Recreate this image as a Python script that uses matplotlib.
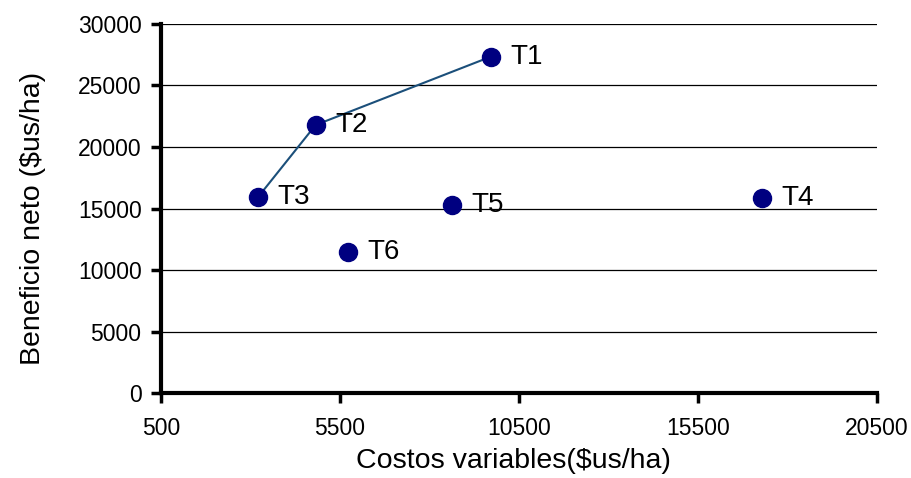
import matplotlib.pyplot as plt

plt.rcParams['font.family'] = ['Liberation Sans', 'DejaVu Sans']

# tratamientos: costos variables vs beneficio neto
nombres = ['T1', 'T2', 'T3', 'T4', 'T5', 'T6']
costos = [9710, 4820, 3220, 17280, 8620, 5720]
beneficio = [27340, 21790, 15960, 15880, 15290, 11490]

# curva de dominancia (T3 -> T2 -> T1)
curva = ['T3', 'T2', 'T1']
curva_x = [costos[nombres.index(t)] for t in curva]
curva_y = [beneficio[nombres.index(t)] for t in curva]

fig = plt.figure(figsize=(9.11, 4.78), dpi=100)
ax = fig.add_axes([0.1767, 0.1778, 0.786, 0.772])

for yv in range(5000, 30001, 5000):
    ax.axhline(yv, color='black', lw=0.9, zorder=1)

ax.plot(curva_x, curva_y, color='#1b4f7a', lw=1.5, zorder=2)
ax.plot(costos, beneficio, 'o', color='#000080', markersize=13, zorder=3)

for n, x, y in zip(nombres, costos, beneficio):
    ax.annotate(n, (x, y), xytext=(14, 0), textcoords='offset points',
                fontsize=20, va='center', ha='left')

ax.set_xlim(500, 20500)
ax.set_ylim(0, 30000)
ax.set_xticks(range(500, 20501, 5000))
ax.set_yticks(range(0, 30001, 5000))
ax.tick_params(labelsize=16.5, width=2.5, length=7, direction='out')
ax.tick_params(axis='x', pad=10)
ax.tick_params(axis='y', pad=7)

for s in ['top', 'right']:
    ax.spines[s].set_visible(False)
for s in ['left', 'bottom']:
    ax.spines[s].set_linewidth(3)

ax.set_xlabel('Costos variables($us/ha)', fontsize=20.5)
ax.set_ylabel('Beneficio neto ($us/ha)', fontsize=20.5)
ax.xaxis.set_label_coords(0.492, -0.148)
ax.yaxis.set_label_coords(-0.160, 0.473)

fig.savefig('out.png', dpi=100)
